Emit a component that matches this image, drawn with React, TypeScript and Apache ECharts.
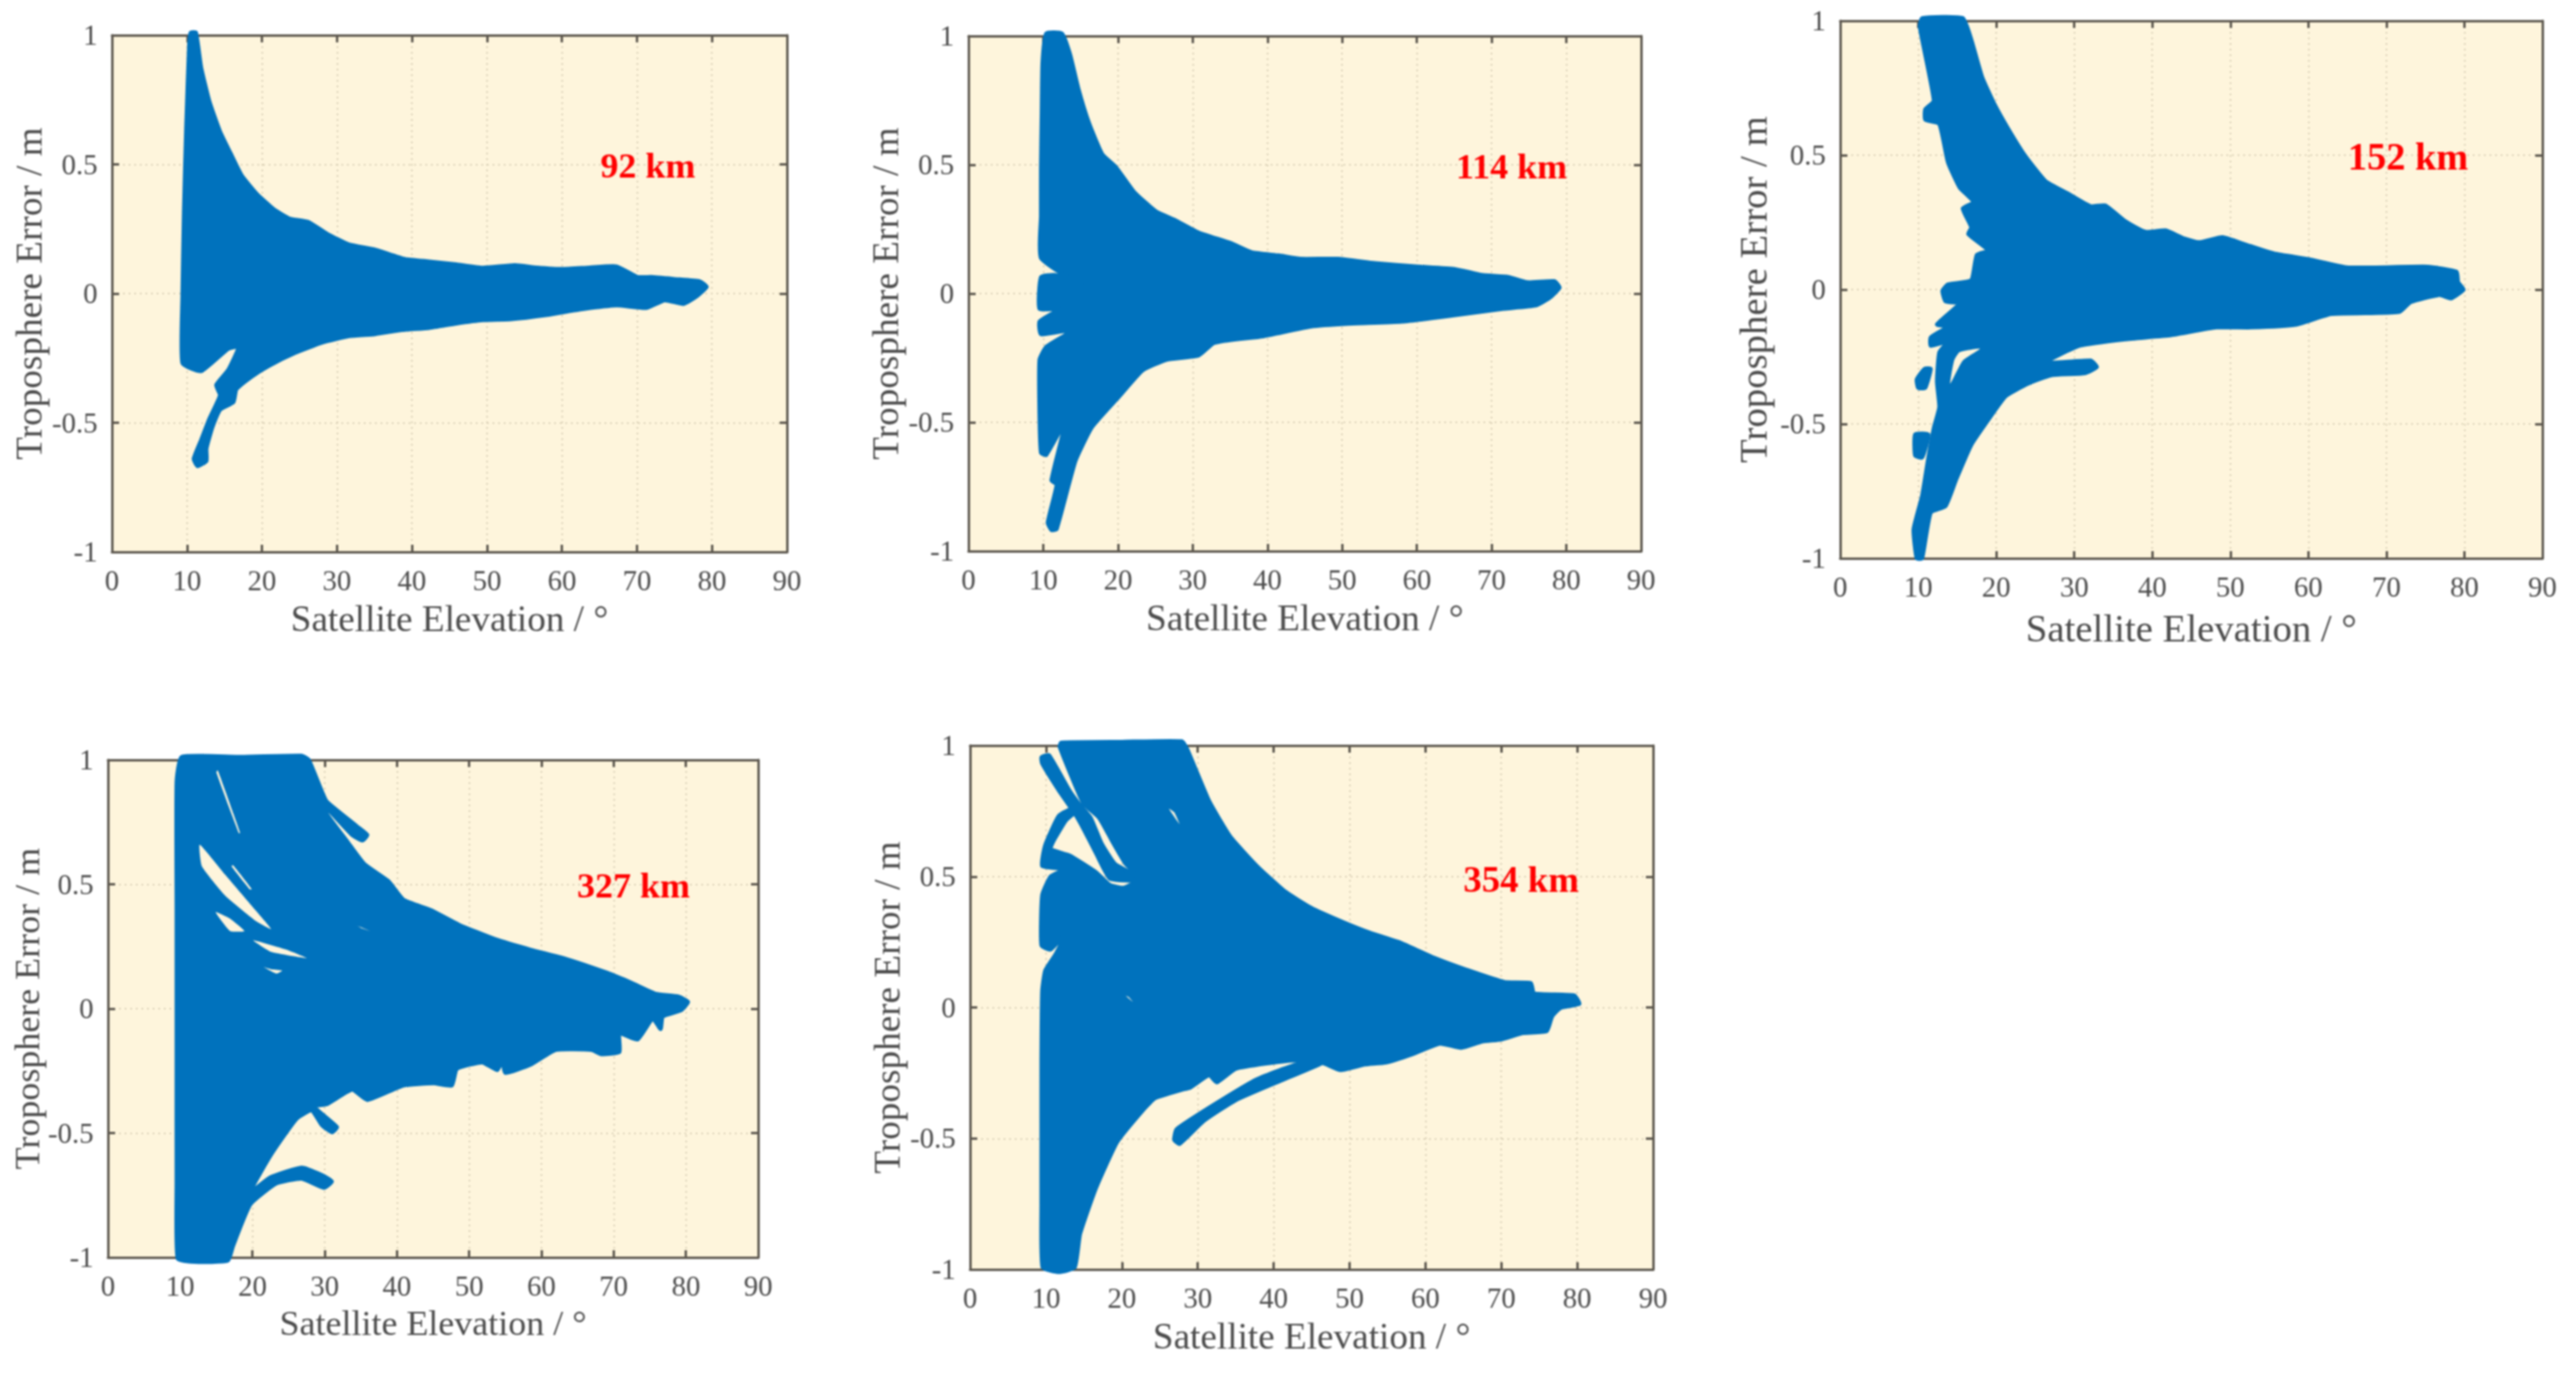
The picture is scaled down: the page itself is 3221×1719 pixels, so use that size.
import React, { useEffect, useRef } from "react";
import * as echarts from "echarts";

type Pt = number[];

const xTitle = "Satellite Elevation / °";
const yTitle = "Troposphere Error / m";
const labels92 = "92 km";
const labels114 = "114 km";
const labels152 = "152 km";
const labels327 = "327 km";
const labels354 = "354 km";

const cloud92: Pt[] = [[9.4,-.27],[9.4,-.01],[9.6,.32],[9.9,.645],[10.3,.97],[10.5,1.01],[11.2,1.01],[11.9,.874],[13,.743],[14.4,.628],[15.9,.538],[17.3,.457],[19.4,.383],[21.6,.326],[23.7,.29],[26.2,.277],[28.7,.231],[31.6,.19],[35.1,.17],[39,.134],[42.3,.124],[45.9,.113],[49.4,.1],[53.7,.11],[56.6,.101],[60.1,.095],[63.7,.101],[67.3,.105],[70.1,.064],[71.9,.064],[75.1,.056],[78.4,.047],[79.3,.026],[78,-.01],[76.2,-.04],[73.7,-.026],[71.2,-.056],[67.3,-.046],[62.3,-.062],[58,-.083],[53,-.1],[49.4,-.103],[45.9,-.116],[42.3,-.133],[38.7,-.141],[35.1,-.157],[31.6,-.165],[28,-.19],[24.4,-.23],[20.9,-.28],[18.7,-.32],[16.6,-.37],[16.2,-.42],[14.4,-.45],[13.4,-.517],[12.6,-.6],[12.6,-.648],[11.4,-.668],[10.9,-.64],[11.9,-.566],[13,-.484],[14.4,-.394],[13.9,-.354],[15.5,-.296],[16.9,-.206],[15.5,-.214],[11.9,-.3]];

const cloud114: Pt[] = [[10.4,1.01],[12.5,1.01],[13.6,.928],[14.7,.796],[16.1,.664],[17.9,.541],[19.7,.492],[22.2,.393],[25.1,.319],[27.6,.286],[30.8,.237],[35.1,.196],[37.9,.16],[41.5,.148],[44.4,.135],[49.4,.135],[54.4,.118],[60.1,.105],[65.1,.095],[68.7,.072],[72.3,.064],[74.8,.044],[78.4,.048],[79.1,.023],[77.7,-.018],[75.9,-.046],[71.6,-.059],[65.1,-.084],[58,-.109],[50.8,-.117],[45.8,-.128],[39.4,-.166],[32.9,-.191],[30.8,-.24],[26.5,-.257],[23.3,-.298],[20,-.405],[16.5,-.52],[14.3,-.651],[11.8,-.914],[11.1,-.918],[10.6,-.89],[11.8,-.742],[11.1,-.725],[12.9,-.503],[10.4,-.627],[9.7,-.618],[9.5,-.47],[9.5,-.257],[10.4,-.207],[14,-.141],[9.7,-.158],[9.5,-.109],[12.2,-.059],[9.5,-.059],[9.7,.064],[11.5,.072],[16.8,.036],[15.7,.023],[9.7,.138],[9.7,.3],[9.7,.484],[9.8,.7],[9.9,.895]];

const cloud152: Pt[] = [[10.5,1.01],[15.7,1.01],[16.8,.93],[18.2,.79],[19.7,.694],[21.5,.6],[23.7,.498],[26.3,.404],[29.2,.357],[32.1,.31],[33.97,.313],[36.5,.255],[39.1,.215],[41.7,.22],[43.9,.192],[46,.176],[49,.195],[51.9,.168],[55.6,.134],[60,.113],[65.1,.082],[75.3,.085],[79,.066],[79.2,.027],[79.9,0],[78.3,-.033],[76.8,-.02],[73.1,-.047],[71.7,-.083],[67.3,-.088],[62.9,-.091],[58.5,-.13],[52.6,-.141],[48.2,-.141],[42.4,-.17],[36.5,-.185],[30.7,-.209],[26.3,-.272],[32.1,-.264],[32.9,-.288],[31.4,-.311],[27,-.319],[24.1,-.35],[21.2,-.397],[19,-.484],[16.8,-.578],[14.9,-.704],[13.5,-.806],[11.6,-.83],[10.5,-1],[9.8,-1],[9.4,-.892],[10.5,-.767],[11.3,-.625],[12,-.515],[12.7,-.437],[12.4,-.342],[12.7,-.233],[13.8,-.193],[11.6,-.209],[11.6,-.178],[13.8,-.138],[12.4,-.13],[15.3,-.052],[13.5,-.044],[13.1,-.005],[13.8,.019],[16.8,.035],[17.5,.129],[19,.145],[16.4,.207],[16.8,.231],[15.7,.302],[17.1,.325],[15.3,.38],[13.8,.474],[12.7,.616],[10.9,.632],[10.9,.671],[12,.702],[10.2,.977]];
const blob152a: Pt[] = [[10.8,-.295],[11.6,-.295],[10.9,-.366],[10,-.366],[9.8,-.335]];
const blob152b: Pt[] = [[9.6,-.539],[11.3,-.539],[10.5,-.625],[9.6,-.618]];
const gap152: Pt[] = [[15.3,-.233],[17.9,-.22],[15.7,-.264],[14.1,-.35],[14.6,-.264]];

const cloud327: Pt[] = [[9.65,-1.005],[9.5,-.7],[9.5,-.2],[9.5,.4],[9.5,.91],[10.2,1.012],[18,1.012],[26.8,1.017],[27.8,1],[29.6,.874],[30.3,.832],[34.5,.732],[35.9,.698],[35.2,.676],[33.8,.698],[29.7,.824],[30.3,.782],[33.1,.673],[35.5,.581],[38.8,.513],[40.9,.438],[44.7,.396],[48.6,.337],[53.6,.279],[58.5,.237],[63.4,.2],[69.1,.144],[72.6,.102],[75.8,.06],[78.9,.049],[80.3,.027],[79.3,-.007],[76.8,-.032],[76.5,-.082],[75.4,-.04],[73.3,-.124],[70.8,-.099],[70.8,-.174],[68.3,-.183],[66.9,-.166],[62,-.166],[58.5,-.225],[55,-.258],[54.6,-.208],[53.9,-.247],[51.8,-.216],[48.3,-.242],[47.6,-.309],[45.1,-.3],[40.9,-.309],[35.9,-.367],[33.8,-.326],[30.3,-.384],[28.5,-.393],[31.7,-.476],[31,-.497],[29.6,-.468],[28.2,-.409],[26.1,-.443],[22.6,-.586],[19.7,-.737],[22.5,-.678],[26.8,-.639],[29.6,-.669],[31,-.695],[29.9,-.72],[26.8,-.683],[23.3,-.703],[19.7,-.787],[17.3,-.955],[16.6,-1.013],[12,-1.018]];
const gap327a: Pt[] = [[12.7,.659],[13,.572],[16.2,.455],[20.4,.354],[22.6,.32],[19.7,.42],[16.2,.539]];
const gap327b: Pt[] = [[14.9,.388],[16.9,.312],[18.9,.312],[16.9,.362]];
const gap327c: Pt[] = [[20.1,.275],[22.6,.228],[27.5,.203],[24.7,.237]];
const gap327d: Pt[] = [[21.6,.166],[23.3,.141],[24.1,.153],[22.6,.158]];
const gap327e: Pt[] = [[17.3,.577],[19.9,.48],[19.6,.48],[17.1,.572]];
const gap327f: Pt[] = [[15.2,.958],[18.3,.706],[18.1,.706],[15,.95]];
const gap327g: Pt[] = [[34.5,.334],[36.3,.312],[35,.325]];

const cloud354: Pt[] = [[9.55,-.992],[11.7,-1.01],[13.8,-.992],[14.5,-.864],[16.6,-.689],[19.4,-.513],[23,-.385],[24.4,-.346],[27.9,-.314],[29,-.306],[31.5,-.258],[32.5,-.286],[35,-.234],[39.3,-.213],[42.8,-.202],[46.3,-.21],[48.8,-.239],[52,-.218],[54.8,-.21],[58.3,-.178],[61.9,-.138],[64.7,-.154],[67.5,-.13],[70,-.122],[72.8,-.098],[76,-.09],[76.7,-.034],[77.8,-.002],[80.3,.014],[79.6,.046],[74.3,.054],[73.9,.093],[70.4,.097],[65.4,.144],[61.2,.189],[56.9,.245],[52.7,.285],[49.2,.325],[44.9,.381],[41.4,.445],[37.8,.54],[34.3,.652],[31.5,.788],[28.6,.987],[27.9,1.016],[20,1.014],[12,1.011],[11.8,.995],[14.9,.78],[17,.724],[18.7,.636],[20.5,.548],[22.4,.492],[20.2,.457],[18.4,.468],[16.6,.516],[13.1,.58],[10.6,.604],[11,.636],[12.7,.716],[14.9,.771],[13.8,.764],[11.7,.732],[9.9,.62],[9.5,.54],[12.4,.528],[10.6,.5],[9.5,.429],[9.4,.237],[10.6,.221],[12.7,.285],[11.3,.205],[9.9,.141],[9.5,.062],[9.4,-.2],[9.4,-.497],[9.4,-.75]];
const strand354a: Pt[] = [[9.4,.955],[10.4,.963],[13.1,.828],[14.5,.772],[15.9,.724],[17.3,.628],[19.1,.548],[22.3,.496],[21.2,.484],[18.4,.492],[16.6,.588],[14.9,.684],[13.8,.74],[11.7,.828],[9.5,.931]];
const strand354b: Pt[] = [[27.2,-.465],[32.2,-.37],[37.8,-.274],[43.5,-.213],[46.3,-.213],[41.4,-.274],[35,-.354],[30.8,-.433],[27.6,-.521],[26.9,-.505]];
const gap354a: Pt[] = [[26.2,.759],[27.6,.7],[26.9,.745]];
const gap354b: Pt[] = [[20.5,.045],[21.5,.02],[20.9,.04]];

const BLUE = "#0072bd";
const CREAM = "#fef5dc";
const FRAME = "#5c574e";
const TEXT = "#4c4c4c";
const FONT = "'Liberation Serif', serif";

const panels = [
  { box: [140, 44, 984, 690], label: labels92, at: [810, 207], xGap: 60, yGap: 80, size: 46.5, tag: 45, marks: [cloud92], gaps: [] as Pt[][] },
  { box: [1211, 45, 2052, 689], label: labels114, at: [1890, 208], xGap: 60, yGap: 80, size: 46.5, tag: 45, marks: [cloud114], gaps: [] as Pt[][] },
  { box: [2301, 26, 3179, 698], label: labels152, at: [3011, 195], xGap: 63, yGap: 84, size: 48.5, tag: 48, marks: [cloud152, blob152a, blob152b], gaps: [gap152] },
  { box: [135, 950, 948, 1572], label: labels327, at: [792, 1107], xGap: 59, yGap: 77, size: 45, tag: 45, marks: [cloud327], gaps: [gap327a, gap327b, gap327c, gap327d, gap327e, gap327f, gap327g] },
  { box: [1213, 932, 2067, 1587], label: labels354, at: [1902, 1099], xGap: 60, yGap: 80, size: 46.5, tag: 46, marks: [cloud354, strand354a, strand354b], gaps: [gap354a, gap354b] },
];

function polygonSeries(points: Pt[], axis: number, fill: string, z: number, stroke: number) {
  return {
    type: "custom",
    xAxisIndex: axis,
    yAxisIndex: axis,
    z,
    silent: true,
    clip: false,
    data: points,
    encode: { x: 0, y: 1 },
    renderItem: (params: any, api: any) => {
      if (params.dataIndex !== 0) return null;
      return {
        type: "polygon",
        shape: { points: points.map((p) => api.coord(p)), smooth: 0.15 },
        style: { fill, stroke: stroke ? fill : "none", lineWidth: stroke, lineJoin: "round" },
      };
    },
  };
}

function buildOption() {
  const grid: any[] = [];
  const xAxis: any[] = [];
  const yAxis: any[] = [];
  const series: any[] = [];
  const graphic: any[] = [];
  const line = { show: true, onZero: false, lineStyle: { color: FRAME, width: 3 } };
  const tick = { show: true, inside: true, length: 9, lineStyle: { color: FRAME, width: 3 } };
  const split = { show: true, lineStyle: { color: "#d8ceb4", width: 2, type: [2, 5] } };
  const lab = { color: TEXT, fontFamily: FONT, fontSize: 36 };

  panels.forEach((p, i) => {
    const [l, t, r, b] = p.box;
    const nameStyle = { color: TEXT, fontFamily: FONT, fontSize: p.size };
    grid.push({ left: l, top: t, width: r - l, height: b - t, show: true, backgroundColor: CREAM, borderWidth: 0 });
    const xBase = { type: "value", gridIndex: i, min: 0, max: 90, interval: 10, axisLine: line, axisTick: tick };
    const yBase = { type: "value", gridIndex: i, min: -1, max: 1, interval: 0.5, axisLine: line, axisTick: tick };
    xAxis.push({
      ...xBase, position: "bottom", splitLine: split,
      axisLabel: { ...lab, margin: 18 },
      name: xTitle, nameLocation: "middle", nameGap: p.xGap, nameTextStyle: nameStyle,
    });
    xAxis.push({ ...xBase, position: "top", splitLine: { show: false }, axisLabel: { show: false } });
    yAxis.push({
      ...yBase, position: "left", splitLine: split,
      axisLabel: { ...lab, margin: 18 },
      name: yTitle, nameLocation: "middle", nameGap: p.yGap, nameTextStyle: nameStyle,
    });
    yAxis.push({ ...yBase, position: "right", splitLine: { show: false }, axisLabel: { show: false } });
    p.marks.forEach((m) => series.push(polygonSeries(m, i * 2, BLUE, 3, 5)));
    p.gaps.forEach((g) => series.push(polygonSeries(g, i * 2, CREAM, 4, 0)));
    graphic.push({
      type: "text", x: p.at[0], y: p.at[1], z: 10,
      style: { text: p.label, fill: "#ff0000", font: `bold ${p.tag}px ${FONT}`, textAlign: "center", textVerticalAlign: "middle" },
    });
  });
  return { animation: false, backgroundColor: "#ffffff", grid, xAxis, yAxis, series, graphic };
}

export default function App() {
  const ref = useRef<HTMLDivElement>(null);
  useEffect(() => {
    document.body.style.margin = "0";
    const chart = echarts.init(ref.current!, undefined, { renderer: "svg" });
    chart.setOption(buildOption() as any);
    return () => chart.dispose();
  }, []);
  return <div ref={ref} style={{ position: "absolute", left: 0, top: 0, width: 3221, height: 1719, filter: "blur(0.8px)" }} />;
}
